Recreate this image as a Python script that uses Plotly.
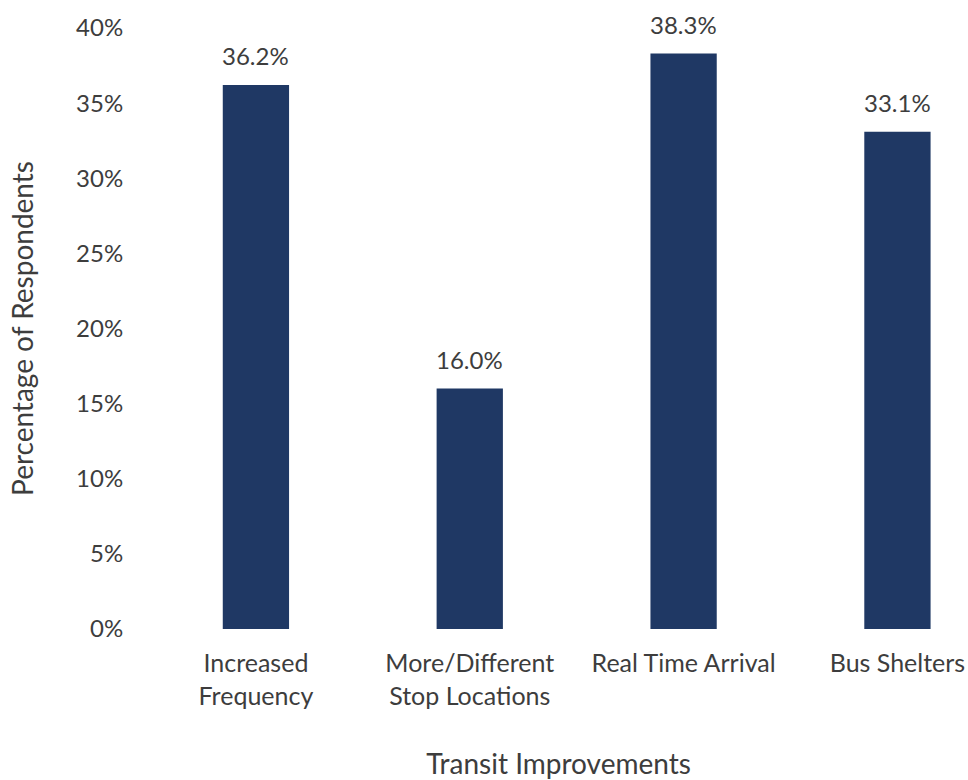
import plotly.graph_objects as go

# Survey results: share of respondents choosing each transit improvement
categories = ["Increased<br>Frequency", "More/Different<br>Stop Locations",
              "Real Time Arrival", "Bus Shelters"]
percent_values = [36.2, 16.0, 38.3, 33.1]
y_tick_values = [0, 5, 10, 15, 20, 25, 30, 35, 40]

BAR_COLOR = "#1F3864"
TEXT_COLOR = "#3d3d3d"
FONT = "Lato, 'Open Sans', sans-serif"

fig = go.Figure(
    go.Bar(
        x=categories,
        y=percent_values,
        width=0.31,
        marker=dict(color=BAR_COLOR, line=dict(width=0)),
        hovertemplate="%{x}: %{y:.1f}%<extra></extra>",
    )
)

# Value labels above each bar
for cat, val in zip(categories, percent_values):
    fig.add_annotation(
        x=cat, y=val, text=f"{val:.1f}%",
        showarrow=False, yanchor="bottom", yshift=13,
        font=dict(family=FONT, size=24, color=TEXT_COLOR),
    )

fig.update_layout(
    width=968, height=780,
    margin=dict(l=149, r=0, t=28, b=151),
    paper_bgcolor="white", plot_bgcolor="white",
    showlegend=False,
    font=dict(family=FONT, size=24, color=TEXT_COLOR),
)

fig.update_xaxes(
    range=[-0.5, 3.33],
    showgrid=False, showline=False, zeroline=False,
    ticks="outside", ticklen=12, tickcolor="rgba(0,0,0,0)",
    tickfont=dict(family=FONT, size=25, color=TEXT_COLOR),
    title=dict(text="Transit Improvements", standoff=48,
               font=dict(family=FONT, size=28, color=TEXT_COLOR)),
)

fig.update_yaxes(
    range=[0, 40],
    tickvals=y_tick_values,
    ticktext=[f"{v}%" for v in y_tick_values],
    showgrid=False, showline=False, zeroline=False,
    ticks="outside", ticklen=20, tickcolor="rgba(0,0,0,0)",
    tickfont=dict(family=FONT, size=24, color=TEXT_COLOR),
    title=dict(text="Percentage of Respondents", standoff=34,
               font=dict(family=FONT, size=28, color=TEXT_COLOR)),
)

fig.write_html("out.html")
